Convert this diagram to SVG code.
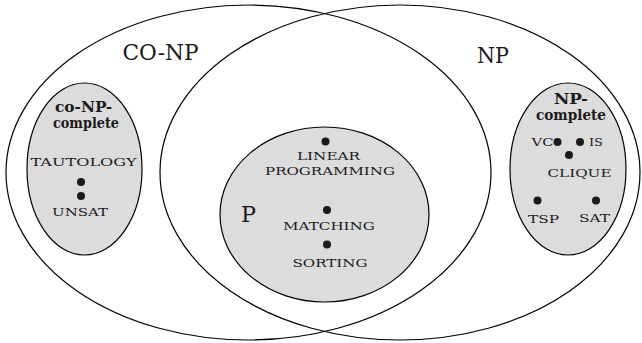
<svg xmlns="http://www.w3.org/2000/svg" width="642" height="343" viewBox="0 0 642 343">
<style>
.big{fill:none;stroke:#000;stroke-width:1.2}
.gray{fill:#dcdcdc;stroke:#000;stroke-width:1.2}
text{fill:#1a1a1a}
.lg{font-size:23px}
.b{font-size:14px;font-weight:bold}
.sc{font-size:11.5px}
.d{fill:#1a1a1a}
</style>
<rect width="642" height="343" fill="#fff"/>
<g id="conp" font-family="DejaVu Serif, serif">
<ellipse class="big" cx="248.5" cy="172.5" rx="242.5" ry="167.5"/>
<text class="lg" x="122.5" y="60" textLength="76" lengthAdjust="spacingAndGlyphs">CO-NP</text>
</g>
<g id="np" font-family="DejaVu Serif, serif">
<ellipse class="big" cx="400" cy="172.5" rx="240" ry="167.5"/>
<text class="lg" x="477" y="63" textLength="32" lengthAdjust="spacingAndGlyphs">NP</text>
</g>
<g id="conp-complete" font-family="DejaVu Serif, serif">
<ellipse class="gray" cx="84.5" cy="169" rx="57.5" ry="86"/>
<text class="b" x="83.5" y="112" text-anchor="middle" textLength="57" lengthAdjust="spacingAndGlyphs">co-NP-</text>
<text class="b" x="86" y="128" text-anchor="middle" textLength="66" lengthAdjust="spacingAndGlyphs">complete</text>
<text class="sc" x="83.5" y="166" text-anchor="middle" textLength="106" lengthAdjust="spacingAndGlyphs">TAUTOLOGY</text>
<circle class="d" cx="81" cy="182" r="4"/>
<circle class="d" cx="81" cy="196" r="4"/>
<text class="sc" x="80" y="216" text-anchor="middle" textLength="56" lengthAdjust="spacingAndGlyphs">UNSAT</text>
</g>
<g id="p" font-family="DejaVu Serif, serif">
<ellipse class="gray" cx="324.5" cy="214.5" rx="104.5" ry="87.5"/>
<text class="lg" x="241" y="221.5" textLength="15" lengthAdjust="spacingAndGlyphs">P</text>
<circle class="d" cx="325.5" cy="141.5" r="4"/>
<text class="sc" x="328.5" y="160" text-anchor="middle" textLength="63" lengthAdjust="spacingAndGlyphs">LINEAR</text>
<text class="sc" x="330" y="175" text-anchor="middle" textLength="130" lengthAdjust="spacingAndGlyphs">PROGRAMMING</text>
<circle class="d" cx="327" cy="210" r="4"/>
<text class="sc" x="329" y="230" text-anchor="middle" textLength="92" lengthAdjust="spacingAndGlyphs">MATCHING</text>
<circle class="d" cx="327" cy="244.5" r="4"/>
<text class="sc" x="330" y="266.5" text-anchor="middle" textLength="75" lengthAdjust="spacingAndGlyphs">SORTING</text>
</g>
<g id="np-complete" font-family="DejaVu Serif, serif">
<ellipse class="gray" cx="568" cy="169" rx="58" ry="86"/>
<text class="b" x="571" y="104" text-anchor="middle" textLength="34" lengthAdjust="spacingAndGlyphs">NP-</text>
<text class="b" x="571" y="120" text-anchor="middle" textLength="70" lengthAdjust="spacingAndGlyphs">complete</text>
<text class="sc" x="531.5" y="146" textLength="22" lengthAdjust="spacingAndGlyphs">VC</text>
<circle class="d" cx="557.5" cy="142" r="4"/>
<circle class="d" cx="580" cy="142" r="4"/>
<text class="sc" x="589" y="146" textLength="14" lengthAdjust="spacingAndGlyphs">IS</text>
<circle class="d" cx="569" cy="155" r="4"/>
<text class="sc" x="579.5" y="177" text-anchor="middle" textLength="64" lengthAdjust="spacingAndGlyphs">CLIQUE</text>
<circle class="d" cx="537.5" cy="200.5" r="4"/>
<circle class="d" cx="596" cy="200.5" r="4"/>
<text class="sc" x="543.5" y="223" text-anchor="middle" textLength="31" lengthAdjust="spacingAndGlyphs">TSP</text>
<text class="sc" x="594.5" y="222" text-anchor="middle" textLength="31" lengthAdjust="spacingAndGlyphs">SAT</text>
</g>
<g id="connectors"/>
</svg>
